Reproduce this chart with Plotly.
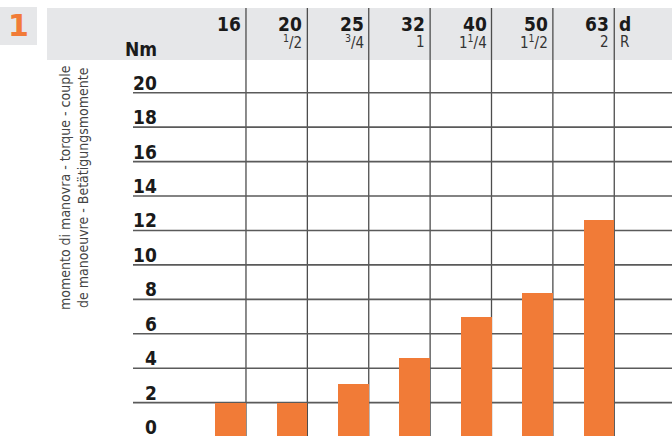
import plotly.graph_objects as go

# ---- data ----
sizes = ["16", "20", "25", "32", "40", "50", "63"]
inch_sizes = ["", "<sup>1</sup>/2", "<sup>3</sup>/4", "1", "1<sup>1</sup>/4", "1<sup>1</sup>/2", "2"]
torque_nm = [2.0, 2.0, 3.1, 4.6, 7.0, 8.35, 12.6]
y_tick_values = [0, 2, 4, 6, 8, 10, 12, 14, 16, 18, 20]
y_tick_labels = ["0", "2", "4", "6", "8", "10", "12", "14", "16", "18", "20"]
unit_label = "Nm"
extra_col_top = "d"
extra_col_bottom = "R"
y_title = "momento di manovra - torque - couple<br>de manoeuvre - Betätigungsmomente"
figure_number = "1"

# ---- layout constants ----
W, H = 672, 436
X0, DX = 184.6, 61.38     # pixel of x=0, pixels per column
Y0, DY = 437.1, 17.22     # pixel of y=0, pixels per unit
ORANGE = "#f17b37"
GREY_BG = "#e6e7e9"
LINE = "#4d4d4d"
FONT = "DejaVu Sans Condensed, Liberation Sans Narrow, Roboto Condensed, Roboto, sans-serif"

def px(x):
    return x / W

def py(y):
    return 1 - y / H

def dx(xpix):
    return (xpix - X0) / DX

n = len(sizes)
bar_x = [i + 0.75 for i in range(n)]

fig = go.Figure()
fig.add_trace(go.Bar(
    x=bar_x, y=torque_nm, width=0.5,
    marker=dict(color=ORANGE, line=dict(width=0)),
    hoverinfo="skip", showlegend=False,
))

shapes = []
# header band
shapes.append(dict(type="rect", xref="paper", yref="paper",
                   x0=px(47), x1=1, y0=py(60), y1=py(8),
                   fillcolor=GREY_BG, line=dict(width=0), layer="below"))
# figure number box
shapes.append(dict(type="rect", xref="paper", yref="paper",
                   x0=0, x1=px(37), y0=py(45), y1=py(7),
                   fillcolor=GREY_BG, line=dict(width=0), layer="below"))
# horizontal grid lines
for v in y_tick_values:
    if v == 0:
        continue
    shapes.append(dict(type="line", xref="x", yref="y",
                       x0=dx(133), x1=dx(W + 2), y0=v, y1=v,
                       line=dict(color="#5a5a5a", width=1.6), layer="below"))
# vertical column lines
for i in range(n):
    shapes.append(dict(type="line", xref="x", yref="paper",
                       x0=i + 1, x1=i + 1, y0=0, y1=py(8),
                       line=dict(color=LINE, width=1.3), layer="below"))

ann = []
# column headers
for i, (s, inch) in enumerate(zip(sizes, inch_sizes)):
    ann.append(dict(x=i + 1, xref="x", y=py(23.5), yref="paper",
                    text=f"<b>{s}</b>", showarrow=False,
                    xanchor="right", yanchor="middle", xshift=-3,
                    font=dict(family=FONT, size=19, color="#1a1a1a")))
    if inch:
        ann.append(dict(x=i + 1, xref="x", y=py(42.5), yref="paper",
                        text=inch, showarrow=False,
                        xanchor="right", yanchor="middle", xshift=-3,
                        font=dict(family=FONT, size=15, color="#333333")))
ann.append(dict(x=n, xref="x", y=py(23.5), yref="paper",
                text=f"<b>{extra_col_top}</b>", showarrow=False,
                xanchor="left", yanchor="middle", xshift=3,
                font=dict(family=FONT, size=19, color="#1a1a1a")))
ann.append(dict(x=n, xref="x", y=py(42.5), yref="paper",
                text=extra_col_bottom, showarrow=False,
                xanchor="left", yanchor="middle", xshift=4,
                font=dict(family=FONT, size=15, color="#333333")))
# unit
ann.append(dict(x=px(159), xref="paper", y=py(49), yref="paper",
                text=f"<b>{unit_label}</b>", showarrow=False,
                xanchor="right", yanchor="middle",
                font=dict(family=FONT, size=19, color="#1a1a1a")))
# y tick labels (placed in paper coordinates so the 0 label stays visible)
for v, t in zip(y_tick_values, y_tick_labels):
    ann.append(dict(x=px(159), xref="paper", y=py(Y0 - v * DY), yref="paper",
                    text=f"<b>{t}</b>", showarrow=False,
                    xanchor="right", yanchor="bottom", yshift=-3,
                    font=dict(family=FONT, size=19, color="#1a1a1a")))
# y title
ann.append(dict(x=px(74), xref="paper", y=py(188), yref="paper",
                text=y_title, showarrow=False, textangle=-90,
                xanchor="center", yanchor="middle",
                font=dict(family=FONT, size=14, color="#444444")))
# figure number
ann.append(dict(x=px(18.5), xref="paper", y=py(25), yref="paper",
                text=f"<b>{figure_number}</b>", showarrow=False,
                xanchor="center", yanchor="middle",
                font=dict(family="DejaVu Sans, sans-serif", size=30, color=ORANGE)))

fig.update_layout(
    width=W, height=H,
    margin=dict(l=0, r=0, t=0, b=0),
    paper_bgcolor="white", plot_bgcolor="white",
    xaxis=dict(range=[dx(0), dx(W)], visible=False, fixedrange=True),
    yaxis=dict(range=[(Y0 - H) / DY, Y0 / DY], visible=False, fixedrange=True),
    shapes=shapes, annotations=ann,
    bargap=0, showlegend=False,
)

fig.write_html(
    "out.html",
    config={"displayModeBar": False},
    post_script="document.body.style.margin='0';document.documentElement.style.overflow='hidden';",
)
